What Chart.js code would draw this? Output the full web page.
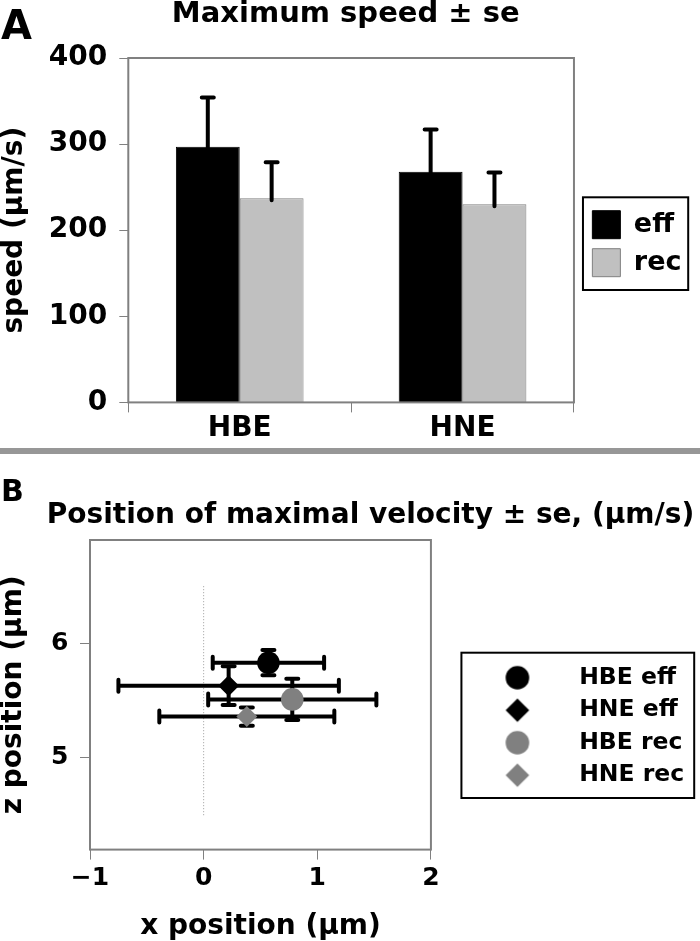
<!DOCTYPE html>
<html>
<head>
<meta charset="utf-8">
<script src="https://cdn.jsdelivr.net/npm/chart.js@4.4.1/dist/chart.umd.min.js"></script>
<style>
  body { margin: 0; background: #fff; }
  #page { position: relative; width: 700px; height: 941px; overflow: hidden; }
  .panel { position: absolute; left: 0; }
  .tag { position: absolute; left: 1px; font: bold 40px/1 'DejaVu Sans', sans-serif; color: #000; }
  #sep { position: absolute; left: 0; top: 448px; width: 700px; height: 6px; background: #979797; }
</style>
</head>
<body>
<div id="page">
  <canvas id="speedChart" class="panel" style="top:0" width="700" height="448"></canvas>
  <div id="sep"></div>
  <canvas id="posChart" class="panel" style="top:454px" width="700" height="487"></canvas>
  <div class="tag" style="top:5px">A</div>
  <div class="tag" style="top:476px;font-size:30px">B</div>
</div>
<script>
// ---- panel A data ----
const groups     = ['HBE', 'HNE'];
const effSpeed   = [297, 268];
const recSpeed   = [237, 230];
const effSE      = [57, 49];
const recSE      = [42, 37];
const speedTicks = [0, 100, 200, 300, 400];

// ---- panel B data ----
const seriesNames = ['HBE eff', 'HNE eff', 'HBE rec', 'HNE rec'];
const posX  = [0.57, 0.22, 0.78, 0.38];
const posZ  = [5.83, 5.63, 5.51, 5.36];
const errX  = [0.49, 0.97, 0.74, 0.77];
const errZ  = [0.11, 0.17, 0.18, 0.08];
const guideZ = [4.5, 6.5];
const xTicks = [-1, 0, 1, 2];
const zTicks = [5, 6];

Chart.defaults.font.family = "'DejaVu Sans', sans-serif";
Chart.defaults.font.weight = 'bold';
Chart.defaults.color = '#000';
Chart.defaults.animation = false;

const AXIS_GRAY = '#808080';
const BLACK = '#000000';
const GREY_BAR = '#c0c0c0';
const GREY_MARK = '#808080';

// gray box round the plot area
const plotFrame = {
  id: 'plotFrame',
  afterDatasetsDraw(chart) {
    const { ctx, chartArea: a } = chart;
    ctx.save();
    ctx.strokeStyle = AXIS_GRAY;
    ctx.lineWidth = 2;
    ctx.strokeRect(a.left, a.top, a.right - a.left, a.bottom - a.top);
    ctx.restore();
  }
};

// black box round the legend entries
const legendFrame = {
  id: 'legendFrame',
  afterDraw(chart, args, opts) {
    const boxes = chart.legend && chart.legend.legendHitBoxes;
    if (!boxes || !boxes.length) return;
    const last = boxes[boxes.length - 1];
    const left = Math.min(...boxes.map(b => b.left)) - opts.left;
    const right = Math.max(...boxes.map(b => b.left + b.width)) + opts.right;
    const top = boxes[0].top - opts.top;
    const bottom = last.top + last.height + opts.bottom;
    const ctx = chart.ctx;
    ctx.save();
    ctx.strokeStyle = '#000';
    ctx.lineWidth = 2;
    ctx.strokeRect(left, top, right - left, bottom - top);
    ctx.restore();
  }
};

// upward-only error bars on the bars
const speedErrors = {
  id: 'speedErrors',
  afterDatasetsDraw(chart) {
    const { ctx, scales: { y } } = chart;
    ctx.save();
    ctx.strokeStyle = '#000';
    ctx.lineWidth = 4;
    ctx.lineCap = 'round';
    chart.data.datasets.forEach((ds, di) => {
      chart.getDatasetMeta(di).data.forEach((bar, i) => {
        const top = y.getPixelForValue(ds.data[i] + ds.errors[i]);
        ctx.beginPath();
        ctx.moveTo(bar.x, bar.y + 2);
        ctx.lineTo(bar.x, top);
        ctx.moveTo(bar.x - 6, top);
        ctx.lineTo(bar.x + 6, top);
        ctx.stroke();
      });
    });
    ctx.restore();
  }
};

// x and z error bars, drawn just after the guide line (under the markers)
const positionErrors = {
  id: 'positionErrors',
  afterDatasetDraw(chart, args) {
    if (!chart.data.datasets[args.index].guide) return;
    const { ctx, scales: { x, y } } = chart;
    ctx.save();
    ctx.strokeStyle = '#000';
    ctx.lineWidth = 4;
    ctx.lineCap = 'round';
    chart.data.datasets.forEach(ds => {
      if (ds.guide) return;
      const p = ds.data[0];
      const px = x.getPixelForValue(p.x), py = y.getPixelForValue(p.y);
      const x0 = x.getPixelForValue(p.x - ds.errX), x1 = x.getPixelForValue(p.x + ds.errX);
      const y0 = y.getPixelForValue(p.y - ds.errZ), y1 = y.getPixelForValue(p.y + ds.errZ);
      ctx.beginPath();
      ctx.moveTo(x0, py); ctx.lineTo(x1, py);
      ctx.moveTo(x0, py - 6); ctx.lineTo(x0, py + 6);
      ctx.moveTo(x1, py - 6); ctx.lineTo(x1, py + 6);
      ctx.moveTo(px, y0); ctx.lineTo(px, y1);
      ctx.moveTo(px - 6, y0); ctx.lineTo(px + 6, y0);
      ctx.moveTo(px - 6, y1); ctx.lineTo(px + 6, y1);
      ctx.stroke();
    });
    ctx.restore();
  }
};

// small canvas used as legend marker
function markerImage(style, color, r) {
  const c = document.createElement('canvas');
  c.width = c.height = Math.ceil(2 * r + 2);
  const g = c.getContext('2d');
  const m = c.width / 2;
  g.fillStyle = color;
  g.beginPath();
  if (style === 'rectRot') {
    g.moveTo(m - r, m); g.lineTo(m, m - r); g.lineTo(m + r, m); g.lineTo(m, m + r);
    g.closePath();
  } else {
    g.arc(m, m, r, 0, Math.PI * 2);
  }
  g.fill();
  return c;
}

// empty right-hand axis, only used as a gap between plot and legend
const spacerAxis = gap => ({
  type: 'linear',
  position: 'right',
  grid: { drawOnChartArea: false, drawTicks: false, color: 'rgba(0,0,0,0)' },
  border: { display: false },
  ticks: { display: false },
  afterFit: s => { s.width = gap; },
});

// ---------- A: maximum speed ----------
new Chart(document.getElementById('speedChart'), {
  type: 'bar',
  data: {
    labels: groups,
    datasets: [
      {
        label: 'eff',
        data: effSpeed,
        errors: effSE,
        backgroundColor: BLACK,
        borderColor: BLACK,
        borderWidth: 1,
        categoryPercentage: 0.573,
        barPercentage: 1.0,
      },
      {
        label: 'rec',
        data: recSpeed,
        errors: recSE,
        backgroundColor: GREY_BAR,
        borderColor: AXIS_GRAY,
        borderWidth: 1,
        categoryPercentage: 0.573,
        barPercentage: 1.0,
      },
    ],
  },
  options: {
    responsive: false,
    layout: { padding: { right: 8.5, bottom: 2 } },
    plugins: {
      title: {
        display: true,
        text: 'Maximum speed ± se',
        font: { size: 29, lineHeight: 1 },
        padding: { top: 0, bottom: 29 },
        color: '#000',
      },
      legend: {
        position: 'right',
        align: 'start',
        maxWidth: 300,
        title: { display: true, text: '', font: { size: 10, lineHeight: 1 }, padding: { top: 190.7, bottom: 0 } },
        labels: { boxWidth: 28, boxHeight: 28, padding: 10, font: { size: 27 }, color: '#000' },
      },
      tooltip: { enabled: false },
      legendFrame: { left: 9.4, right: 6.7, top: 13.4, bottom: 13.3 },
    },
    scales: {
      x: {
        grid: { drawOnChartArea: false, tickLength: 10, color: AXIS_GRAY, offset: true },
        border: { display: false },
        ticks: { font: { size: 28 }, padding: 0 },
      },
      y: {
        min: 0,
        max: 400,
        afterBuildTicks: s => { s.ticks = speedTicks.map(v => ({ value: v })); },
        afterFit: s => { s.width = 128.3; },
        grid: { drawOnChartArea: false, tickLength: 9, color: AXIS_GRAY },
        border: { display: false },
        ticks: { font: { size: 28 }, padding: 12 },
        title: {
          display: true,
          text: 'speed (μm/s)',
          font: { size: 28, lineHeight: 1 },
          padding: { top: 1, bottom: 20 },
        },
      },
      spacer: spacerAxis(8.4),
    },
  },
  plugins: [plotFrame, speedErrors, legendFrame],
});

// ---------- B: position of maximal velocity ----------
const markerStyles = ['circle', 'rectRot', 'circle', 'rectRot'];
const markerColors = [BLACK, BLACK, GREY_MARK, GREY_MARK];
const markerRadius = [11.3, 10.5, 11.3, 10.5];

const posDatasets = seriesNames.map((name, i) => ({
  label: name,
  data: [{ x: posX[i], y: posZ[i] }],
  errX: errX[i],
  errZ: errZ[i],
  pointStyle: markerStyles[i],
  backgroundColor: markerColors[i],
  borderColor: markerColors[i],
  borderWidth: 0,
  pointRadius: markerRadius[i],
  pointHoverRadius: markerRadius[i],
  order: 0,
}));

posDatasets.push({
  label: 'x = 0',
  guide: true,
  data: guideZ.map(z => ({ x: 0, y: z })),
  showLine: true,
  borderColor: '#9a9a9a',
  borderWidth: 1,
  borderDash: [1, 2],
  pointRadius: 0,
  order: 1,
});

new Chart(document.getElementById('posChart'), {
  type: 'scatter',
  data: { datasets: posDatasets },
  options: {
    responsive: false,
    layout: { padding: { right: 5.8, bottom: 0 } },
    plugins: {
      title: {
        display: true,
        text: 'Position of maximal velocity ± se, (μm/s)',
        align: 'end',
        font: { size: 28, lineHeight: 1 },
        padding: { top: 48, bottom: 10 },
        color: '#000',
      },
      legend: {
        position: 'right',
        align: 'start',
        maxWidth: 300,
        title: { display: true, text: '', font: { size: 10, lineHeight: 1 }, padding: { top: 193, bottom: 0 } },
        labels: {
          usePointStyle: true,
          pointStyleWidth: 100,
          boxHeight: 23.5,
          padding: 9,
          font: { size: 23.5 },
          color: '#000',
          generateLabels(chart) {
            return chart.data.datasets
              .map((ds, i) => ({
                text: ds.label,
                datasetIndex: i,
                hidden: false,
                fillStyle: ds.backgroundColor,
                strokeStyle: ds.backgroundColor,
                lineWidth: 0,
                fontColor: '#000',
                pointStyle: ds.guide ? 'circle' : markerImage(ds.pointStyle, ds.backgroundColor, 11.8),
              }))
              .filter(item => !chart.data.datasets[item.datasetIndex].guide);
          },
        },
      },
      tooltip: { enabled: false },
      legendFrame: { left: 6, right: 10, top: 13.3, bottom: 11 },
    },
    scales: {
      x: {
        type: 'linear',
        min: -1,
        max: 2,
        afterBuildTicks: s => { s.ticks = xTicks.map(v => ({ value: v })); },
        grid: { drawOnChartArea: false, tickLength: 10, color: AXIS_GRAY },
        border: { display: false },
        ticks: { font: { size: 25 }, padding: 4, callback: v => String(v).replace('-', '\u2212') },
        title: {
          display: true,
          text: 'x position (μm)',
          font: { size: 28, lineHeight: 1 },
          padding: { top: 15.4, bottom: 0 },
        },
      },
      y: {
        type: 'linear',
        min: 4.2,
        max: 6.9,
        afterBuildTicks: s => { s.ticks = zTicks.map(v => ({ value: v })); },
        afterFit: s => { s.width = 90; },
        grid: { drawOnChartArea: false, tickLength: 10, color: AXIS_GRAY },
        border: { display: false },
        ticks: { font: { size: 25 }, padding: 11.7 },
        title: {
          display: true,
          text: 'z position (μm)',
          font: { size: 28, lineHeight: 1 },
          padding: { top: 0, bottom: 22.9 },
        },
      },
      spacer: spacerAxis(27.5),
    },
  },
  plugins: [plotFrame, positionErrors, legendFrame],
});
</script>
</body>
</html>
